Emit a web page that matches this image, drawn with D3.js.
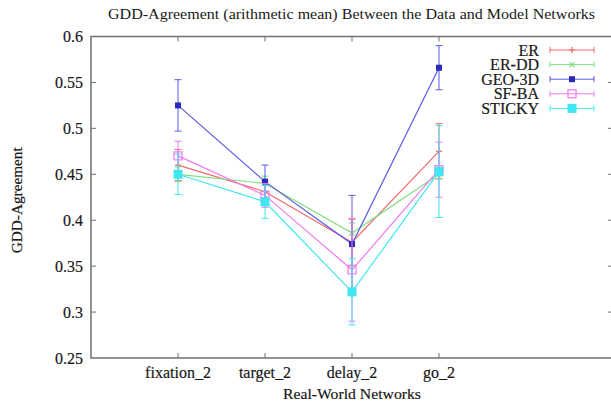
<!DOCTYPE html>
<html>
<head>
<meta charset="utf-8">
<script src="https://cdn.jsdelivr.net/npm/d3@7"></script>
<style>
  body { margin: 0; background: #fff; }
  text { font-family: "Liberation Serif", "Times New Roman", serif; fill: #1a1a1a; stroke: #1a1a1a; stroke-width: 0.2px; }
  text.title { stroke-width: 0; }
</style>
</head>
<body>
<svg id="chart" width="611" height="403"></svg>
<script>
// categories on the x axis
var networks = ["fixation_2", "target_2", "delay_2", "go_2"];
var yTicks = [0.25, 0.3, 0.35, 0.4, 0.45, 0.5, 0.55, 0.6];

// series: means and error (half-length) per network
var seriesNames = ["ER", "ER-DD", "GEO-3D", "SF-BA", "STICKY"];
var erMean     = [0.460, 0.431, 0.376, 0.475];
var erErr      = [0.017, 0.012, 0.025, 0.030];
var erddMean   = [0.450, 0.440, 0.386, 0.450];
var erddErr    = [0.008, 0.008, 0.011, 0.005];
var geoMean    = [0.525, 0.442, 0.374, 0.566];
var geoErr     = [0.028, 0.018, 0.053, 0.024];
var sfbaMean   = [0.470, 0.427, 0.346, 0.455];
var sfbaErr    = [0.016, 0.013, 0.056, 0.030];
var stickyMean = [0.450, 0.420, 0.322, 0.453];
var stickyErr  = [0.022, 0.018, 0.036, 0.050];

var colors  = ["#f06a6a", "#7ee07e", "#5a5ae6", "#f078f0", "#40e6f0"];
var markers = ["plus", "cross", "smallsq", "opensq", "bigsq"];

var series = [
  { name: seriesNames[0], mean: erMean,     err: erErr },
  { name: seriesNames[1], mean: erddMean,   err: erddErr },
  { name: seriesNames[2], mean: geoMean,    err: geoErr },
  { name: seriesNames[3], mean: sfbaMean,   err: sfbaErr },
  { name: seriesNames[4], mean: stickyMean, err: stickyErr }
];

var svg = d3.select("#chart");

var mLeft = 91, mRight = 613, mTop = 36.5, mBottom = 358;

// x: networks sit at positions 1..4 on a 0..6 range (gnuplot style)
var x = d3.scaleLinear().domain([0, 6]).range([mLeft, mRight]);
var y = d3.scaleLinear().domain([0.25, 0.6]).range([mBottom, mTop]);

var frame = "#707070";

// frame
svg.append("rect")
  .attr("x", mLeft).attr("y", mTop)
  .attr("width", mRight - mLeft).attr("height", mBottom - mTop)
  .attr("fill", "none").attr("stroke", frame).attr("stroke-width", 1.5);

// y ticks (left + mirrored on right)
var yAxis = svg.append("g");
yTicks.forEach(function (t) {
  var yy = y(t);
  if (t > 0.25 && t < 0.6) {
    yAxis.append("line").attr("x1", mLeft).attr("x2", mLeft + 5).attr("y1", yy).attr("y2", yy).attr("stroke", frame);
    yAxis.append("line").attr("x1", mRight - 5).attr("x2", mRight).attr("y1", yy).attr("y2", yy).attr("stroke", frame);
  }
  yAxis.append("text")
    .attr("x", 83).attr("y", yy).attr("dy", "0.35em")
    .attr("text-anchor", "end").attr("font-size", 16)
    .text(d3.format("")(t));
});

// x ticks (bottom + mirrored at top)
var xAxis = svg.append("g");
networks.forEach(function (n, i) {
  var xx = x(i + 1);
  xAxis.append("line").attr("x1", xx).attr("x2", xx).attr("y1", mBottom).attr("y2", mBottom - 5).attr("stroke", frame);
  xAxis.append("line").attr("x1", xx).attr("x2", xx).attr("y1", mTop).attr("y2", mTop + 5).attr("stroke", frame);
  xAxis.append("text")
    .attr("x", xx).attr("y", 378)
    .attr("text-anchor", "middle").attr("font-size", 16)
    .text(n);
});

// titles
svg.append("text").attr("class", "title")
  .attr("x", 351.5).attr("y", 19)
  .attr("text-anchor", "middle").attr("font-size", 15)
  .attr("textLength", 487).attr("lengthAdjust", "spacingAndGlyphs")
  .text("GDD-Agreement (arithmetic mean) Between the Data and Model Networks");

svg.append("text")
  .attr("x", 352).attr("y", 399)
  .attr("text-anchor", "middle").attr("font-size", 15)
  .attr("textLength", 138).attr("lengthAdjust", "spacingAndGlyphs")
  .text("Real-World Networks");

svg.append("text")
  .attr("transform", "translate(22," + ((mTop + mBottom) / 2 + 3) + ") rotate(-90)")
  .attr("text-anchor", "middle").attr("font-size", 14)
  .attr("textLength", 106).attr("lengthAdjust", "spacingAndGlyphs")
  .text("GDD-Agreement");

function drawMarker(g, type, cx, cy, color) {
  if (type === "plus") {
    g.append("path").attr("d", "M" + (cx - 3) + "," + cy + "H" + (cx + 3) + "M" + cx + "," + (cy - 3) + "V" + (cy + 3))
      .attr("stroke", color).attr("stroke-width", 1.2);
  } else if (type === "cross") {
    g.append("path").attr("d", "M" + (cx - 2.5) + "," + (cy - 2.5) + "L" + (cx + 2.5) + "," + (cy + 2.5) + "M" + (cx - 2.5) + "," + (cy + 2.5) + "L" + (cx + 2.5) + "," + (cy - 2.5))
      .attr("stroke", color).attr("stroke-width", 1.2);
  } else if (type === "smallsq") {
    g.append("rect").attr("x", cx - 3).attr("y", cy - 3).attr("width", 6).attr("height", 6)
      .attr("fill", "#2a2ab8");
  } else if (type === "opensq") {
    g.append("rect").attr("x", cx - 4).attr("y", cy - 4).attr("width", 8).attr("height", 8)
      .attr("fill", "none").attr("stroke", color).attr("stroke-width", 1.2);
  } else if (type === "bigsq") {
    g.append("rect").attr("x", cx - 4.5).attr("y", cy - 4.5).attr("width", 9).attr("height", 9)
      .attr("fill", color);
  }
}

var line = d3.line()
  .x(function (d) { return x(d.i + 1); })
  .y(function (d) { return y(d.v); });

series.forEach(function (s, k) {
  var g = svg.append("g");
  var col = colors[k];
  var pts = s.mean.map(function (v, i) { return { i: i, v: v, e: s.err[i] }; });

  // error bars
  pts.forEach(function (p) {
    var xx = x(p.i + 1), y0 = y(p.v - p.e), y1 = y(p.v + p.e);
    g.append("line").attr("x1", xx).attr("x2", xx).attr("y1", y0).attr("y2", y1)
      .attr("stroke", col).attr("stroke-width", 1);
    [y0, y1].forEach(function (yy) {
      g.append("line").attr("x1", xx - 3.5).attr("x2", xx + 3.5).attr("y1", yy).attr("y2", yy)
        .attr("stroke", col).attr("stroke-width", 1);
    });
  });

  g.append("path").datum(pts)
    .attr("d", line)
    .attr("fill", "none").attr("stroke", col).attr("stroke-width", 1.2);

  pts.forEach(function (p) { drawMarker(g, markers[k], x(p.i + 1), y(p.v), col); });

  // legend entry
  var ly = 50 + k * 14.6;
  svg.append("text")
    .attr("x", 539).attr("y", ly).attr("dy", "0.35em")
    .attr("text-anchor", "end").attr("font-size", 16)
    .text(s.name);
  svg.append("line").attr("x1", 550).attr("x2", 594).attr("y1", ly).attr("y2", ly)
    .attr("stroke", col).attr("stroke-width", 1);
  [550, 594].forEach(function (xx) {
    svg.append("line").attr("x1", xx).attr("x2", xx).attr("y1", ly - 3).attr("y2", ly + 3)
      .attr("stroke", col).attr("stroke-width", 1);
  });
  drawMarker(svg.append("g"), markers[k], 572, ly, col);
});
</script>
</body>
</html>
